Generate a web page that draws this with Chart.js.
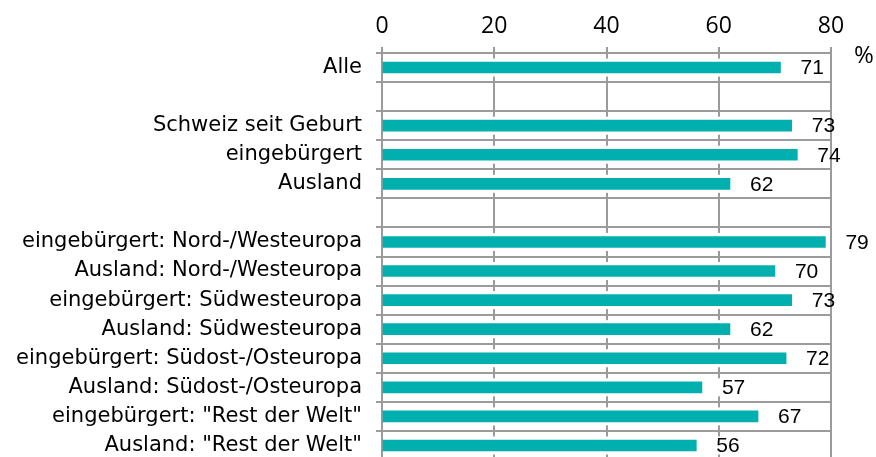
<!DOCTYPE html>
<html>
<head>
<meta charset="utf-8">
<script src="https://cdn.jsdelivr.net/npm/chart.js@4"></script>
<style>
  html, body { margin: 0; padding: 0; background: #fff; overflow: hidden; }
  #chart { display: block; }
</style>
</head>
<body>
<canvas id="chart" width="876" height="462"></canvas>
<script>
// Kategorien (leere Einträge = Abstandszeilen)
const kategorien = [
  'Alle',
  '',
  'Schweiz seit Geburt',
  'eingebürgert',
  'Ausland',
  '',
  'eingebürgert: Nord-/Westeuropa',
  'Ausland: Nord-/Westeuropa',
  'eingebürgert: Südwesteuropa',
  'Ausland: Südwesteuropa',
  'eingebürgert: Südost-/Osteuropa',
  'Ausland: Südost-/Osteuropa',
  'eingebürgert: "Rest der Welt"',
  'Ausland: "Rest der Welt"'
];
const werte = [71, null, 73, 74, 62, null, 79, 70, 73, 62, 72, 57, 67, 56];
const xTicks = [0, 20, 40, 60, 80];
const einheit = '%';

const gridFarbe = '#9b9b9b';
const balkenFarbe = '#00AFAE';

// weisse Bänder hinter den Balken (verdecken die senkrechten Gitterlinien)
const baenderPlugin = {
  id: 'baender',
  beforeDatasetsDraw(chart) {
    const ctx = chart.ctx;
    const area = chart.chartArea;
    const meta = chart.getDatasetMeta(0);
    ctx.save();
    ctx.fillStyle = '#fff';
    meta.data.forEach((el, i) => {
      if (werte[i] == null) return;
      ctx.fillRect(area.left + 1, el.y - 9, area.right - area.left - 2, 18);
    });
    ctx.restore();
  }
};

// Werte rechts neben den Balken + Prozentzeichen
const beschriftungPlugin = {
  id: 'beschriftung',
  afterDatasetsDraw(chart) {
    const ctx = chart.ctx;
    const area = chart.chartArea;
    const meta = chart.getDatasetMeta(0);
    ctx.save();
    ctx.fillStyle = '#000';
    ctx.font = '21px "Liberation Sans", Arial, sans-serif';
    ctx.textAlign = 'left';
    ctx.textBaseline = 'middle';
    meta.data.forEach((el, i) => {
      if (werte[i] == null) return;
      ctx.fillText(String(werte[i]), el.x + 20, el.y + 1);
    });
    ctx.font = '24px "Open Sans", sans-serif';
    ctx.textAlign = 'center';
    ctx.fillText(einheit, area.right + 33, area.top + 3);
    ctx.restore();
  }
};

new Chart(document.getElementById('chart'), {
  type: 'bar',
  data: {
    labels: kategorien,
    datasets: [{
      data: werte,
      backgroundColor: balkenFarbe,
      barThickness: 11
    }]
  },
  options: {
    indexAxis: 'y',
    responsive: false,
    animation: false,
    layout: { padding: { left: 0, right: 45, top: 0, bottom: 2 } },
    plugins: {
      legend: { display: false },
      tooltip: { enabled: false }
    },
    scales: {
      x: {
        position: 'top',
        min: 0,
        max: 80,
        afterBuildTicks: (scale) => { scale.ticks = xTicks.map(v => ({ value: v })); },
        afterFit: (scale) => {
          scale.height = 53;
          scale.paddingLeft = 0;
          scale.paddingRight = 0;
        },
        ticks: {
          color: '#000',
          padding: 7,
          font: { family: '"Open Sans", sans-serif', size: 23 }
        },
        grid: { color: gridFarbe, lineWidth: 2, tickLength: 6 },
        border: { color: gridFarbe, width: 2 }
      },
      y: {
        afterFit: (scale) => {
          scale.width = 382;
          scale.paddingTop = 0;
          scale.paddingBottom = 0;
        },
        ticks: {
          color: '#000',
          padding: 14,
          autoSkip: false,
          font: { family: '"DejaVu Sans", sans-serif', size: 21 }
        },
        grid: { color: gridFarbe, lineWidth: 2, tickLength: 6, offset: true },
        border: { color: gridFarbe, width: 2 }
      }
    }
  },
  plugins: [baenderPlugin, beschriftungPlugin]
});
</script>
</body>
</html>
